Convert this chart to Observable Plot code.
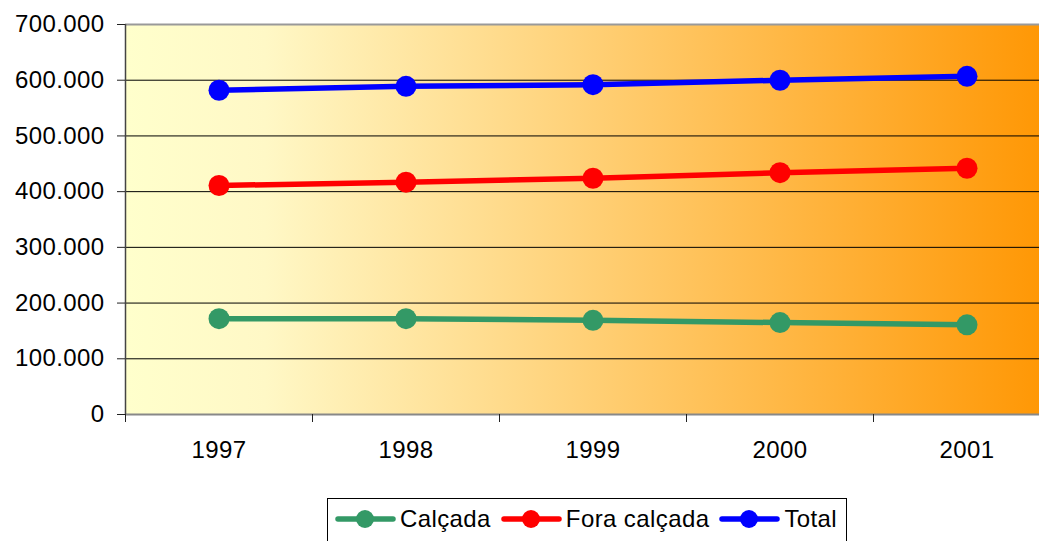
<!DOCTYPE html>
<html>
<head>
<meta charset="utf-8">
<script src="https://cdn.jsdelivr.net/npm/d3@7"></script>
<script src="https://cdn.jsdelivr.net/npm/@observablehq/plot@0.6"></script>
<style>
  body { margin: 0; background: white; font-family: "Liberation Sans", Arial, sans-serif; }
  #wrap { position: relative; width: 1039px; height: 541px; overflow: hidden; }
  #legend { position: absolute; left: 327px; top: 498px; width: 520px; height: 50px; border: 1px solid #000; box-sizing: border-box; display: flex; align-items: flex-start; padding-top: 6px; padding-left: 7px; font-size: 24px; letter-spacing: 0.4px; }
  .item { display: flex; align-items: center; height: 28px; margin-right: 10px; white-space: nowrap; }
  .item svg { margin-right: 4px; }
</style>
</head>
<body>
<div id="wrap"></div>
<script>
const years = [1997, 1998, 1999, 2000, 2001];
const calcada = [172000, 172000, 169000, 165000, 161000];
const fora = [411000, 417000, 424000, 434000, 442000];
const total = [582000, 589000, 592000, 600000, 607000];
const seriesNames = ["Calçada", "Fora calçada", "Total"];
const seriesColors = ["#339966", "#ff0000", "#0000ff"];
const yTicks = [0, 100000, 200000, 300000, 400000, 500000, 600000, 700000];

const seriesValues = [calcada, fora, total];
const data = [];
seriesNames.forEach((s, k) => years.forEach((y, i) => data.push({year: y, series: s, value: seriesValues[k][i]})));
const bounds = [years[0] - 0.5, ...years.map(y => y + 0.5)];
const fmt = d => d3.format(",")(d).replace(/,/g, ".");

const plot = Plot.plot({
  width: 1039,
  height: 495,
  marginLeft: 125,
  marginRight: 0,
  marginTop: 24,
  marginBottom: 81,
  style: {fontFamily: "'Liberation Sans', Arial, sans-serif", fontSize: "24px", letterSpacing: "0.4px", color: "#000", background: "white"},
  x: {domain: [years[0] - 0.5, years[years.length - 1] + 0.5], range: [125, 1060]},
  y: {domain: [0, 700000]},
  color: {domain: seriesNames, range: seriesColors},
  marks: [
    Plot.frame({fill: "url(#bg)", stroke: "none"}),
    Plot.gridY(yTicks.slice(0, -1), {stroke: "#000", strokeOpacity: 1, strokeWidth: 1}),
    Plot.ruleY([700000], {stroke: "#999", strokeWidth: 2}),
    Plot.ruleY([0], {stroke: "#888", strokeWidth: 2}),
    Plot.ruleX([bounds[0]], {stroke: "#444", strokeWidth: 1.5}),
    Plot.axisY(yTicks, {tickFormat: fmt, tickSize: 8, tickPadding: 13, label: null, stroke: "#222", fontSize: 24}),
    Plot.axisX(years, {tickSize: 0, tickPadding: 26, tickFormat: d => String(d), label: null, fontSize: 24}),
    Plot.axisX(bounds, {tickSize: 8, tickFormat: () => "", label: null, stroke: "#222"}),
    Plot.line(data, {x: "year", y: "value", z: "series", stroke: "series", strokeWidth: 5.5}),
    Plot.dot(data, {x: "year", y: "value", fill: "series", r: 10.5})
  ]
});

const svg = d3.select(plot);
const defs = svg.insert("defs", ":first-child");
const g = defs.append("linearGradient").attr("id", "bg").attr("gradientUnits", "userSpaceOnUse")
  .attr("x1", 125).attr("x2", 1060).attr("y1", 0).attr("y2", 0);
g.append("stop").attr("offset", "0%").attr("stop-color", "#ffffcc");
g.append("stop").attr("offset", "15%").attr("stop-color", "#fff8c6");
g.append("stop").attr("offset", "100%").attr("stop-color", "#ff9500");

const wrap = document.getElementById("wrap");
wrap.appendChild(plot);

const legend = document.createElement("div");
legend.id = "legend";
seriesNames.forEach((s, k) => {
  const item = document.createElement("div");
  item.className = "item";
  item.innerHTML = `<svg width="61" height="22"><line x1="3" x2="58" y1="11" y2="11" stroke="${seriesColors[k]}" stroke-width="5.5" stroke-linecap="round"/><circle cx="30" cy="11" r="9" fill="${seriesColors[k]}"/></svg><span>${s}</span>`;
  legend.appendChild(item);
});
wrap.appendChild(legend);
</script>
</body>
</html>
